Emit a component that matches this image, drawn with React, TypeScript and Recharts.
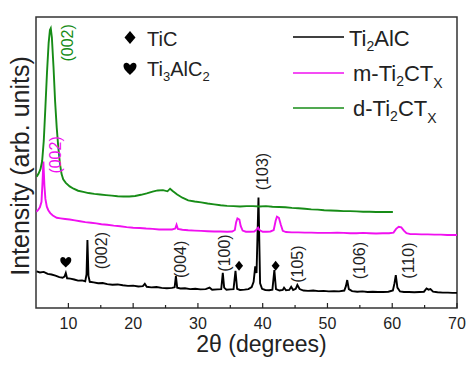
import React from 'react';
import { LineChart, Line, XAxis, YAxis, ReferenceArea, ReferenceDot } from 'recharts';

// 2θ (deg), intensity (arb. units, 0-100 scale of the plot)
const TI2ALC: [number, number][] = [
  [5.1,12.6],[5.6,12.2],[6.2,12.4],[6.8,11.7],[7.4,11.5],[8.0,11.1],[8.6,10.6],[9.1,10.4],[9.4,10.8],[9.6,12.0],[9.8,10.2],[10.3,10.1],[10.9,9.8],[11.5,9.4],[12.1,9.5],[12.6,9.2],[12.8,11.5],[12.94,23.4],[13.1,11.0],[13.3,9.0],[13.9,8.8],[14.6,8.5],[15.3,8.6],[16.0,8.2],[16.8,8.0],[17.6,8.1],[18.4,7.8],[19.2,7.6],[20.0,7.7],[20.8,7.4],[21.5,7.5],[21.8,8.3],[22.1,7.3],[22.8,7.1],[23.6,7.2],[24.4,6.9],[25.2,6.8],[26.0,6.9],[26.4,7.1],[26.6,11.0],[26.8,7.0],[27.3,6.7],[28.0,6.8],[28.8,6.5],[29.6,6.6],[30.4,6.4],[31.2,6.5],[31.8,7.0],[32.2,6.3],[33.0,6.4],[33.6,6.5],[33.84,12.1],[34.05,7.0],[34.4,6.3],[35.0,6.4],[35.5,6.5],[35.8,12.8],[36.05,6.6],[36.5,6.2],[37.2,6.3],[37.8,6.5],[38.3,7.2],[38.6,9.0],[38.85,14.3],[39.05,12.0],[39.35,38.0],[39.6,8.5],[39.9,6.6],[40.4,6.2],[41.0,6.1],[41.5,6.3],[41.8,13.0],[42.05,6.5],[42.6,6.0],[43.1,6.2],[43.3,7.0],[43.6,6.1],[44.1,6.2],[44.4,7.3],[44.7,6.2],[45.1,6.6],[45.35,7.9],[45.7,6.5],[46.3,6.0],[47.0,5.9],[47.8,6.0],[48.6,5.8],[49.4,5.9],[50.2,5.7],[51.0,5.8],[51.8,5.7],[52.6,6.0],[52.85,7.5],[53.05,9.6],[53.3,6.5],[53.8,5.8],[54.6,5.6],[55.4,5.7],[56.2,5.5],[57.0,5.6],[57.8,5.5],[58.6,5.5],[59.4,5.6],[60.1,6.0],[60.35,8.5],[60.55,11.3],[60.8,7.0],[61.2,5.7],[61.8,5.5],[62.6,5.5],[63.4,5.4],[64.2,5.5],[64.9,5.6],[65.3,6.7],[65.6,6.3],[65.9,6.5],[66.3,5.6],[67.0,5.4],[67.8,5.3],[68.6,5.3],[69.3,5.2],[70,5.2],
];

const M_TI2CTX: [number, number][] = [
  [5.05,33.1],[5.3,33.6],[5.6,34.6],[5.85,36.5],[6.0,43],[6.14,50.3],[6.3,42],[6.45,37.5],[6.67,34.8],[6.9,33.6],[7.2,32.6],[7.6,31.8],[8.2,31.0],[8.8,30.8],[9.5,30.6],[10.2,30.4],[11.0,30.1],[11.8,29.8],[12.6,29.5],[13.5,29.3],[14.3,29.1],[15.1,28.8],[16.0,28.6],[17.0,28.3],[18.0,28.1],[19.0,27.8],[20.0,27.6],[21.0,27.5],[22.0,27.3],[23.0,27.2],[24.0,27.0],[25.0,27.0],[26.0,27.0],[26.5,27.3],[26.7,28.6],[26.9,27.2],[27.6,26.9],[28.5,26.7],[29.5,26.6],[30.5,26.5],[31.5,26.4],[32.5,26.3],[33.5,26.3],[34.5,26.2],[35.3,26.3],[35.7,26.8],[35.9,29.5],[36.1,30.8],[36.4,30.4],[36.6,28.2],[36.9,26.6],[37.4,26.2],[38.0,26.2],[38.7,26.3],[39.1,27.0],[39.3,27.6],[39.5,26.8],[40.0,26.2],[40.6,26.2],[41.2,26.3],[41.7,26.8],[42.0,30.0],[42.2,31.4],[42.5,31.0],[42.8,28.6],[43.1,26.5],[43.6,26.1],[44.5,26.0],[45.5,26.0],[46.5,25.9],[47.5,25.9],[48.5,25.8],[49.5,25.8],[50.5,25.8],[51.5,25.9],[52.5,25.8],[53.5,25.7],[54.5,25.7],[55.5,25.8],[56.5,25.7],[57.5,25.6],[58.5,25.7],[59.5,25.7],[60.2,25.9],[60.6,27.2],[61.0,27.9],[61.4,27.7],[61.8,26.6],[62.2,25.7],[62.8,25.4],[63.6,25.4],[64.5,25.3],[65.5,25.3],[66.5,25.2],[67.5,25.2],[68.5,25.1],[69.3,25.1],[70,25.1],
];

const D_TI2CTX: [number, number][] = [
  [5.1,45.1],[5.4,46.2],[5.7,47.8],[5.95,50.5],[6.2,57.5],[6.45,69],[6.7,81],[6.95,91],[7.15,95.5],[7.28,96.1],[7.45,93],[7.7,83],[7.95,71],[8.2,62],[8.45,55],[8.7,49.5],[8.95,46],[9.2,44.2],[9.6,43.0],[10.2,41.8],[10.8,41.0],[11.5,40.3],[12.3,39.9],[13.1,39.5],[14.0,39.2],[14.9,39.0],[15.8,38.8],[16.7,38.6],[17.6,38.4],[18.5,38.3],[19.4,38.3],[20.3,38.5],[21.2,38.9],[22.1,39.4],[23.0,40.0],[23.8,40.4],[24.6,40.5],[25.3,40.1],[25.7,41.0],[26.1,40.2],[26.8,39.0],[27.6,37.9],[28.5,37.0],[29.5,36.6],[30.5,36.3],[31.5,35.9],[32.5,35.6],[33.5,35.3],[34.5,35.1],[35.5,35.0],[36.5,34.9],[37.5,35.0],[38.5,35.0],[39.5,34.9],[40.5,35.0],[41.5,34.8],[42.5,34.7],[43.5,34.6],[44.5,34.4],[45.5,34.3],[46.5,34.1],[47.5,33.9],[48.5,33.8],[49.5,33.6],[50.5,33.5],[51.5,33.4],[52.5,33.3],[53.5,33.3],[54.5,33.2],[55.5,33.1],[56.5,33.1],[57.5,33.0],[58.5,33.0],[59.3,33.0],[60.1,33.0],
];

const X_TICKS = [10, 15, 20, 25, 30, 35, 40, 45, 50, 55, 60, 65, 70];

// hkl annotations: label, 2θ of label centre, intensity of label centre, series
const HKL_LABELS: [string, number, number, string][] = [
  ['(002)', 9.88, 91.1, 'd'],
  ['(002)', 8.03, 52.6, 'm'],
  ['(002)', 15.13, 19.7, 'b'],
  ['(004)', 27.24, 16.7, 'b'],
  ['(100)', 34.04, 18.9, 'b'],
  ['(103)', 39.98, 46.9, 'b'],
  ['(105)', 45.38, 15.1, 'b'],
  ['(106)', 55.02, 16.3, 'b'],
  ['(110)', 62.58, 16.3, 'b'],
];

// phase markers: 2θ, intensity
const TIC_MARKS: [number, number][] = [[36.35, 14.5], [42.0, 14.5]];
const TI3ALC2_MARKS: [number, number][] = [[9.6, 15.8]];

const GREEN = '#178c17';
const MAGENTA = '#f010f0';
const FONT = '"Liberation Sans", Arial, sans-serif';

const toRows = (arr: [number, number][]) => arr.map(([x, y]) => ({ x, y }));
const colorOf = (s: string) => (s === 'd' ? GREEN : s === 'm' ? MAGENTA : '#222');

const XTick = (props: any) => {
  const { x, y, payload } = props;
  const major = payload.value % 10 === 0;
  return (
    <g>
      <line x1={x} x2={x} y1={y} y2={y - (major ? 5 : 3)} stroke="#222" strokeWidth={1.2} />
      {major && (
        <text x={x} y={y + 21} textAnchor="middle" fontSize={16} fill="#222" fontFamily={FONT}>
          {payload.value}
        </text>
      )}
    </g>
  );
};

const diamondPath = (cx: number, cy: number, w: number, h: number) =>
  `M${cx},${cy - h / 2} L${cx + w / 2},${cy} L${cx},${cy + h / 2} L${cx - w / 2},${cy} Z`;
const heartPath = (cx: number, cy: number, s: number) => {
  const k = s / 12;
  return `M${cx},${cy + 6 * k} C${cx - 3 * k},${cy + 3 * k} ${cx - 6 * k},${cy + 1 * k} ${cx - 6 * k},${cy - 2.5 * k} C${cx - 6 * k},${cy - 6 * k} ${cx - 1.5 * k},${cy - 6.5 * k} ${cx},${cy - 3 * k} C${cx + 1.5 * k},${cy - 6.5 * k} ${cx + 6 * k},${cy - 6 * k} ${cx + 6 * k},${cy - 2.5 * k} C${cx + 6 * k},${cy + 1 * k} ${cx + 3 * k},${cy + 3 * k} ${cx},${cy + 6 * k} Z`;
};

export default function App() {
  return (
    <div style={{ position: 'absolute', left: 0, top: 0, width: 468, height: 368, background: '#fff', fontFamily: FONT }}>
      <LineChart width={468} height={368} margin={{ top: 17, right: 11, left: 36, bottom: 0 }}>
        <XAxis
          dataKey="x"
          type="number"
          domain={[5, 70]}
          ticks={X_TICKS}
          interval={0}
          allowDataOverflow
          height={60}
          axisLine={false}
          tickLine={false}
          tickSize={0}
          tickMargin={0}
          tick={<XTick />}
          label={{ value: '2θ (degrees)', position: 'insideBottom', offset: 16, dx: 15, style: { fontSize: 23, fill: '#222', fontFamily: FONT } }}
        />
        <YAxis type="number" domain={[0, 100]} width={0} tick={false} axisLine={false} tickLine={false} />
        <ReferenceArea x1={5} x2={70} y1={0} y2={100} fill="none" stroke="#333" strokeWidth={1.5} ifOverflow="extendDomain" />
        <Line data={toRows(TI2ALC)} dataKey="y" stroke="#000" strokeWidth={1.9} dot={false} isAnimationActive={false} />
        <Line data={toRows(M_TI2CTX)} dataKey="y" stroke={MAGENTA} strokeWidth={1.9} dot={false} isAnimationActive={false} />
        <Line data={toRows(D_TI2CTX)} dataKey="y" stroke={GREEN} strokeWidth={1.9} dot={false} isAnimationActive={false} />
        {HKL_LABELS.map(([t, x, y, s], i) => (
          <ReferenceDot
            key={'h' + i}
            x={x}
            y={y}
            r={0}
            shape={(p: any) => (
              <text
                x={p.cx}
                y={p.cy}
                transform={`rotate(-90 ${p.cx} ${p.cy})`}
                textAnchor="middle"
                dominantBaseline="central"
                fontSize={16}
                fill={colorOf(s)}
                fontFamily={FONT}
              >
                {t}
              </text>
            )}
          />
        ))}
        {TIC_MARKS.map(([x, y], i) => (
          <ReferenceDot key={'d' + i} x={x} y={y} r={0} shape={(p: any) => <path d={diamondPath(p.cx, p.cy, 8, 10)} fill="#000" />} />
        ))}
        {TI3ALC2_MARKS.map(([x, y], i) => (
          <ReferenceDot key={'t' + i} x={x} y={y} r={0} shape={(p: any) => <path d={heartPath(p.cx, p.cy, 11)} fill="#000" />} />
        ))}
      </LineChart>
      <svg width={468} height={368} style={{ position: 'absolute', left: 0, top: 0, pointerEvents: 'none' }} fontFamily={FONT}>
        {/* y-axis title */}
        <text x={20} y={166} transform="rotate(-90 20 166)" textAnchor="middle" dominantBaseline="central" fontSize={25} fill="#222">
          Intensity (arb. units)
        </text>
        {/* phase marker legend */}
        <path d={diamondPath(130, 37.5, 11, 13)} fill="#000" />
        <text x={147} y={46} fontSize={20} fill="#222">TiC</text>
        <path d={heartPath(130, 68.5, 13)} fill="#000" />
        <text x={147} y={76} fontSize={20} fill="#222">
          Ti<tspan fontSize={13} dy={5}>3</tspan><tspan dy={-5}>AlC</tspan><tspan fontSize={13} dy={5}>2</tspan>
        </text>
        {/* series legend */}
        <line x1={293} x2={344} y1={37} y2={37} stroke="#000" strokeWidth={1.6} />
        <text x={349} y={46} fontSize={22} fill="#222">
          Ti<tspan fontSize={14} dy={5}>2</tspan><tspan dy={-5}>AlC</tspan>
        </text>
        <line x1={293} x2={344} y1={73} y2={73} stroke={MAGENTA} strokeWidth={1.6} />
        <text x={353} y={81} fontSize={22} fill="#222">
          m-Ti<tspan fontSize={14} dy={5}>2</tspan><tspan dy={-5}>CT</tspan><tspan fontSize={14} dy={7}>X</tspan>
        </text>
        <line x1={293} x2={344} y1={108} y2={108} stroke={GREEN} strokeWidth={1.6} />
        <text x={353} y={116} fontSize={22} fill="#222">
          d-Ti<tspan fontSize={14} dy={5}>2</tspan><tspan dy={-5}>CT</tspan><tspan fontSize={14} dy={7}>X</tspan>
        </text>
      </svg>
    </div>
  );
}
